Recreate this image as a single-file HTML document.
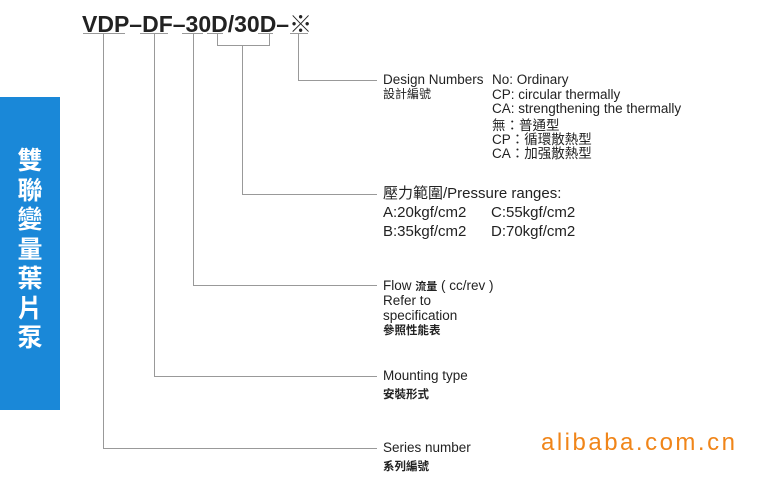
<!DOCTYPE html>
<html><head><meta charset="utf-8"><style>
html,body{margin:0;padding:0;background:#fff;}
body{width:769px;height:480px;position:relative;overflow:hidden;font-family:"Liberation Sans","Noto Sans CJK TC",sans-serif;color:#222;}
.t{position:absolute;white-space:nowrap;font-size:13.5px;line-height:15px;}
.cj{font-size:11.5px;font-weight:bold;}
#blue{position:absolute;left:0;top:97px;width:60px;height:313px;background:#1a88d8;}
#vt{position:absolute;left:0;top:145px;width:60px;text-align:center;color:#fff;font-weight:bold;font-size:25px;line-height:29.5px;font-family:"Noto Sans CJK TC",sans-serif;}
#title{position:absolute;left:82px;top:5px;font-size:23px;font-weight:bold;letter-spacing:0px;color:#222;}
</style></head><body>
<div id="blue"></div>
<div id="vt">雙<br>聯<br>變<br>量<br>葉<br>片<br>泵</div>
<div id="title">VDP–DF–30D/30D–※</div>
<svg width="769" height="480" style="position:absolute;left:0;top:0" fill="none" stroke="#999" stroke-width="1">
<path d="M83 33.5H125M140 33.5H168M182 33.5H203M207 33.5H223M258 33.5H273M290 33.5H308"/>
<path d="M103.5 33V448.5H377"/>
<path d="M154.5 33V376.5H377"/>
<path d="M193.5 33V285.5H377"/>
<path d="M217.5 33V45.5H269.5V33M242.5 45V194.5H377"/>
<path d="M298.5 33V80.5H377"/>
</svg>
<div class="t" style="left:383px;top:72px">Design Numbers</div>
<div class="t cj" style="left:383px;top:87px;font-weight:normal;font-size:12px">設計編號</div>
<div class="t" style="left:492px;top:72px">No: Ordinary</div>
<div class="t" style="left:492px;top:87px">CP: circular thermally</div>
<div class="t" style="left:492px;top:101px">CA: strengthening the thermally</div>
<div class="t" style="left:492px;top:118px">無：普通型</div>
<div class="t" style="left:492px;top:132px">CP：循環散熱型</div>
<div class="t" style="left:492px;top:146px">CA：加强散熱型</div>
<div class="t" style="left:383px;top:186px;font-size:15px">壓力範圍/Pressure ranges:</div>
<div class="t" style="left:383px;top:205px;font-size:15px">A:20kgf/cm2</div>
<div class="t" style="left:491px;top:205px;font-size:15px">C:55kgf/cm2</div>
<div class="t" style="left:383px;top:224px;font-size:15px">B:35kgf/cm2</div>
<div class="t" style="left:491px;top:224px;font-size:15px">D:70kgf/cm2</div>
<div class="t" style="left:383px;top:278px">Flow <b style="font-size:11px">流量</b> ( cc/rev )</div>
<div class="t" style="left:383px;top:293px">Refer to</div>
<div class="t" style="left:383px;top:308px">specification</div>
<div class="t cj" style="left:383px;top:324px">參照性能表</div>
<div class="t" style="left:383px;top:368px">Mounting type</div>
<div class="t cj" style="left:383px;top:388px">安裝形式</div>
<div class="t" style="left:383px;top:440px">Series number</div>
<div class="t cj" style="left:383px;top:460px">系列編號</div>
<div class="t" style="left:541px;top:429px;font-size:24px;line-height:28px;letter-spacing:2.5px;color:#f08519;">alibaba.com.cn</div>
</body></html>
